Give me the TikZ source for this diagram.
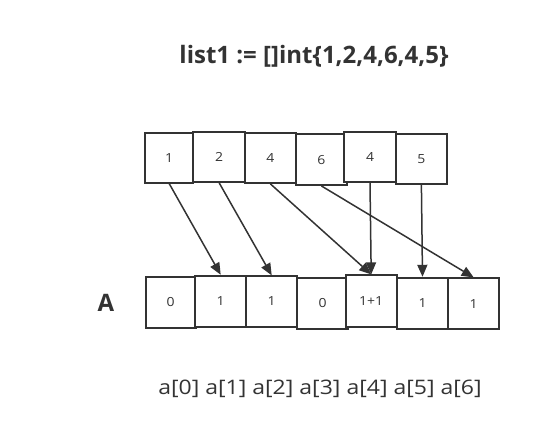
\documentclass[tikz,border=0pt]{standalone}
\usepackage{fontspec}
\setmainfont{Open Sans}
\usetikzlibrary{arrows.meta}
\definecolor{ink}{HTML}{333333}
\newcommand{\wide}[1]{\scalebox{1.12}[1]{#1}}
\begin{document}
\begin{tikzpicture}[x=1pt,y=-1pt,
  cell/.style={draw=ink,line width=1.8pt,fill=white,inner sep=0pt,font=\fontsize{12.5}{14}\selectfont,text=ink},
  link/.style={draw=ink,line width=1.5pt,-{Triangle[length=12pt,width=10pt]}}]
\useasboundingbox (0,0) rectangle (554,446);
\node[font=\bfseries\fontsize{24}{28}\selectfont,text=ink,anchor=base] (title) at (314,64) {list1 := []int\{1,2,4,6,4,5\}};
% top row
\node[cell,minimum width=48.3pt,minimum height=50pt] (t1) at (169.2,157.7) {\wide{1}};
\node[cell,minimum width=51.7pt,minimum height=50pt] (t2) at (219.2,157) {\wide{2}};
\node[cell,minimum width=50.7pt,minimum height=50pt] (t3) at (270.4,158) {\wide{4}};
\node[cell,minimum width=50.7pt,minimum height=50.7pt] (t4) at (321.4,159.7) {\wide{6}};
\node[cell,minimum width=51.4pt,minimum height=50pt] (t5) at (370,157.3) {\wide{4}};
\node[cell,minimum width=50.7pt,minimum height=50pt] (t6) at (421.4,159) {\wide{5}};
% bottom row
\node[cell,minimum width=50pt,minimum height=51pt] (b0) at (170.7,302.2) {\wide{0}};
\node[cell,minimum width=50.7pt,minimum height=51pt] (b1) at (220.7,301.2) {\wide{1}};
\node[cell,minimum width=51.3pt,minimum height=50.4pt] (b2) at (271.7,301.5) {\wide{1}};
\node[cell,minimum width=51.3pt,minimum height=51.3pt] (b3) at (322.7,303.3) {\wide{0}};
\node[cell,minimum width=51pt,minimum height=51.4pt] (b4) at (371.2,301) {\wide{1+1}};
\node[cell,minimum width=51.6pt,minimum height=51pt] (b5) at (422.5,303.2) {\wide{1}};
\node[cell,minimum width=50.7pt,minimum height=50.7pt] (b6) at (473.7,303.7) {\wide{1}};
\node[font=\bfseries\fontsize{24}{28}\selectfont,text=ink,anchor=base] (A) at (105.8,311.7) {A};
\node[font=\fontsize{20}{24}\selectfont,text=ink,anchor=base] (idx) at (320,394) {\scalebox{1.15}[1]{a[0] a[1] a[2] a[3] a[4] a[5] a[6]}};
% arrows
\draw[link] (t1.south) -- (b1.north);
\draw[link] (t2.south) -- (b2.north);
\draw[link] (t3.south) -- (b4.north);
\draw[link] (t4.south) -- (b6.north);
\draw[link] (t5.south) -- (b4.north);
\draw[link] (t6.south) -- (b5.north);
\end{tikzpicture}
\end{document}
